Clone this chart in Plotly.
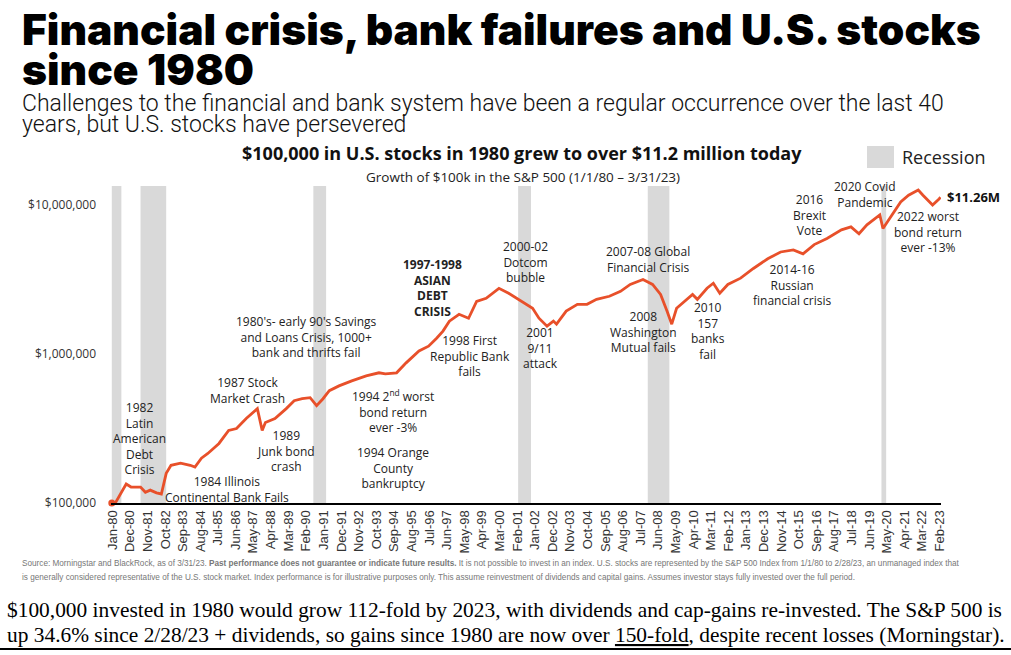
import numpy as np
import pandas as pd
import plotly.graph_objects as go

# ---------------- data ----------------
dates = ["1980-01", "1980-03", "1980-10", "1981-01", "1981-07", "1981-10", "1982-01", "1982-05",
         "1982-08", "1982-11", "1983-02", "1983-08", "1984-02", "1984-05", "1984-09", "1985-01",
         "1985-08", "1986-02", "1986-07", "1987-01", "1987-08", "1987-11", "1988-01", "1988-07",
         "1989-02", "1989-07", "1989-12", "1990-05", "1990-09", "1991-01", "1991-05", "1991-11",
         "1992-07", "1993-04", "1993-12", "1994-04", "1994-11", "1995-05", "1996-01", "1996-07",
         "1996-12", "1997-04", "1997-08", "1998-02", "1998-08", "1999-01", "1999-07", "2000-01",
         "2000-03", "2000-09", "2001-02", "2001-08", "2001-12", "2002-04", "2002-09", "2003-01",
         "2003-03", "2003-09", "2004-04", "2004-10", "2005-04", "2005-12", "2006-07", "2007-01",
         "2007-09", "2008-03", "2008-08", "2008-12", "2009-03", "2009-06", "2010-01", "2010-04",
         "2010-07", "2011-01", "2011-05", "2011-09", "2012-02", "2012-10", "2013-06", "2014-03",
         "2014-11", "2015-07", "2016-01", "2016-08", "2017-04", "2018-01", "2018-07", "2018-12",
         "2019-05", "2020-01", "2020-03", "2020-09", "2021-02", "2021-07", "2022-01", "2022-04",
         "2022-08", "2022-10", "2023-02", "2023-03"]
values = [100000, 99000, 134000, 128000, 128000, 118000, 122000, 117000,
          115000, 158000, 179000, 185000, 179000, 174000, 200000, 215000,
          251000, 307000, 316000, 369000, 430000, 307000, 347000, 369000,
          430000, 486000, 501000, 509000, 450000, 501000, 567000, 611000,
          660000, 713000, 748000, 736000, 748000, 872000, 1047000, 1129000,
          1276000, 1425000, 1662000, 1848000, 1738000, 2254000, 2365000, 2633000,
          2761000, 2557000, 2365000, 2154000, 2027000, 1738000, 1538000, 1662000,
          1585000, 1940000, 2154000, 2154000, 2328000, 2441000, 2633000, 2929000,
          3162000, 2929000, 2512000, 1940000, 1585000, 2027000, 2365000, 2512000,
          2328000, 2761000, 2985000, 2557000, 2929000, 3228000, 3750000, 4357000,
          4838000, 4993000, 4698000, 5424000, 5955000, 6813000, 7129000, 6412000,
          7356000, 8578000, 6958000, 8710000, 10471000, 11628000, 12589000, 11628000,
          10471000, 10000000, 10984000, 11260000]

recession_start = ["1980-01-01", "1981-07-01", "1990-07-01", "2001-03-01", "2007-12-01", "2020-02-01"]
recession_end = ["1980-07-01", "1982-11-01", "1991-03-01", "2001-11-01", "2009-01-15", "2020-05-01"]

tick_labels = ["Jan-80", "Dec-80", "Nov-81", "Oct-82", "Sep-83", "Aug-84", "Jul-85", "Jun-86",
               "May-87", "Apr-88", "Mar-89", "Feb-90", "Jan-91", "Dec-91", "Nov-92", "Oct-93",
               "Sep-94", "Aug-95", "Jul-96", "Jun-97", "May-98", "Apr-99", "Mar-00", "Feb-01",
               "Jan-02", "Dec-02", "Nov-03", "Oct-04", "Sep-05", "Aug-06", "Jul-07", "Jun-08",
               "May-09", "Apr-10", "Mar-11", "Feb-12", "Jan-13", "Dec-13", "Nov-14", "Oct-15",
               "Sep-16", "Aug-17", "Jul-18", "Jun-19", "May-20", "Apr-21", "Mar-22", "Feb-23"]

y_tick_vals = [100000, 1000000, 10000000]
y_tick_text = ["$100,000", "$1,000,000", "$10,000,000"]

end_label = "$11.26M"

# ---------------- layout helpers ----------------
W, H = 1011, 655
L, R, T, B = 111, 941, 186, 503


def px(x):
    return (x - L) / (R - L)


def py(y):
    return (B - y) / (B - T)


x_dates = pd.to_datetime(dates, format="%Y-%m")
tick_dates = [pd.to_datetime(t, format="%b-%y") + pd.Timedelta(days=14) for t in tick_labels]

LINE = "#e8502a"
TXT = "#222222"
CHART_FONT = "Open Sans"

fig = go.Figure()

fig.add_trace(go.Scatter(x=x_dates, y=values, mode="lines",
                         line=dict(color=LINE, width=2.8), hoverinfo="skip",
                         showlegend=False))
fig.add_trace(go.Scatter(x=x_dates[:1], y=values[:1], mode="markers",
                         marker=dict(color=LINE, size=7), cliponaxis=False,
                         hoverinfo="skip", showlegend=False))

shapes = []
for s, e in zip(recession_start, recession_end):
    shapes.append(dict(type="rect", xref="x", yref="paper", x0=s, x1=e, y0=0, y1=1,
                       fillcolor="#d9d9d9", line=dict(width=0), layer="below"))
# legend swatch
shapes.append(dict(type="rect", xref="paper", yref="paper", x0=px(867), x1=px(894),
                   y0=py(168), y1=py(146), fillcolor="#d9d9d9", line=dict(width=0)))
# bottom rule
shapes.append(dict(type="line", xref="paper", yref="paper", x0=px(0), x1=px(1011),
                   y0=py(649), y1=py(649), line=dict(color="black", width=2)))

ann = []


def add(text, x, y, size=12, bold=False, family=CHART_FONT, color=TXT, xanchor="center",
        yanchor="middle", align="center", weight=None):
    f = dict(family=family, size=size, color=color)
    if weight is not None:
        f["weight"] = weight
    ann.append(dict(text=("<b>%s</b>" % text) if bold else text, x=px(x), y=py(y),
                    xref="paper", yref="paper", xanchor=xanchor, yanchor=yanchor,
                    align=align, showarrow=False, font=f))


# Titles
add("Financial crisis, bank failures and U.S. stocks", 20, 30, size=42.5,
    family="Inter, Roboto", weight=900, color="#000", xanchor="left", align="left")
add("since 1980", 20, 69, size=42.5, family="Inter, Roboto", weight=900, color="#000",
    xanchor="left", align="left")
add("Challenges to the financial and bank system have been a regular occurrence over the last 40",
    20, 103, size=23, family="Roboto", weight=300, color="#111", xanchor="left", align="left")
add("years, but U.S. stocks have persevered", 20, 124, size=23, family="Roboto", weight=300,
    color="#111", xanchor="left", align="left")

add("$100,000 in U.S. stocks in 1980 grew to over $11.2 million today", 522, 167, size=18,
    bold=True, color="#111", yanchor="bottom")
add("Growth of $100k in the S&P 500 (1/1/80 \u2013 3/31/23)", 523, 166, size=13.5, color="#222",
    yanchor="top")
add("Recession", 900, 157, size=18, color="#222", xanchor="left", align="left")

# Event annotations
events = [
    ("1982<br>Latin<br>American<br>Debt<br>Crisis", 139, 438, False),
    ("1984 Illinois<br>Continental Bank Fails", 227, 489, False),
    ("1987 Stock<br>Market Crash", 247, 390, False),
    ("1989<br>Junk bond<br>crash", 286, 451, False),
    ("1980's- early 90's Savings<br>and Loans Crisis, 1000+<br>bank and thrifts fail", 306, 337, False),
    ("1994 2<sup>nd</sup> worst<br>bond return<br>ever -3%", 393, 411, False),
    ("1994 Orange<br>County<br>bankruptcy", 393, 468, False),
    ("1997-1998<br>ASIAN<br>DEBT<br>CRISIS", 432, 288, True),
    ("1998 First<br>Republic Bank<br>fails", 470, 356, False),
    ("2000-02<br>Dotcom<br>bubble", 525, 262, False),
    ("2001<br>9/11<br>attack", 540, 348, False),
    ("2007-08 Global<br>Financial Crisis", 648, 259, False),
    ("2008<br>Washington<br>Mutual fails", 643, 332, False),
    ("2010<br>157<br>banks<br>fail", 708, 331, False),
    ("2014-16<br>Russian<br>financial crisis", 792, 285, False),
    ("2016<br>Brexit<br>Vote", 809, 215, False),
    ("2020 Covid<br>Pandemic", 865, 194, False),
    ("2022 worst<br>bond return<br>ever -13%", 928, 232, False),
]
for text, x, y, b in events:
    add(text, x, y, size=12, bold=b)

# End value label anchored to last data point
ann.append(dict(text="<b>%s</b>" % end_label, x=x_dates[-1], y=np.log10(values[-1]),
                xref="x", yref="y", xanchor="left", yanchor="middle", xshift=4,
                showarrow=False, font=dict(family=CHART_FONT, size=13, color="#111")))

# Source footnote
src1 = ("Source: Morningstar and BlackRock, as of 3/31/23. <b>Past performance does not guarantee "
        "or indicate future results.</b> It is not possible to invest in an index. U.S. stocks are "
        "represented by the S&P 500 Index from 1/1/80 to 2/28/23, an unmanaged index that")
src2 = ("is generally considered representative of the U.S. stock market. Index performance is for "
        "illustrative purposes only. This assume reinvestment of dividends and capital gains. "
        "Assumes investor stays fully invested over the full period.")
add(src1, 20, 563, size=8.2, family="Liberation Sans", color="#777", xanchor="left", align="left")
add(src2, 20, 577, size=8.2, family="Liberation Sans", color="#777", xanchor="left", align="left")

# Caption
cap1 = ("$100,000 invested in 1980 would grow 112-fold by 2023, with dividends and cap-gains "
        "re-invested. The S&P 500 is")
cap2 = ("up 34.6% since 2/28/23 + dividends, so gains since 1980 are now over <u>150-fold</u>, "
        "despite recent losses (Morningstar).")
add(cap1, 5, 610, size=21.4, family="Liberation Serif", color="#000", xanchor="left", align="left")
add(cap2, 5, 635, size=21.4, family="Liberation Serif", color="#000", xanchor="left", align="left")

x0 = pd.Timestamp("1979-12-17")
x1 = pd.Timestamp("2023-03-10")

fig.update_layout(
    width=W, height=H,
    margin=dict(l=L, r=W - R, t=T, b=H - B, pad=0),
    paper_bgcolor="white", plot_bgcolor="white",
    shapes=shapes, annotations=ann,
    showlegend=False,
    xaxis=dict(type="date", range=[x0, x1], tickmode="array", tickvals=tick_dates,
               ticktext=tick_labels, tickangle=-90, showgrid=False, zeroline=False,
               showline=True, linecolor="black", linewidth=2, ticks="",
               tickfont=dict(family="Liberation Sans", size=13, color="#333")),
    yaxis=dict(type="log", range=[5, 7.1275], tickmode="array", tickvals=y_tick_vals,
               ticktext=y_tick_text, showgrid=False, zeroline=False, showline=False,
               ticks="", ticklabelstandoff=14,
               tickfont=dict(family=CHART_FONT, size=12, color="#333")),
)

fig.write_html("out.html", config={"displayModeBar": False},
               post_script="document.body.style.margin='0';document.body.style.overflow='hidden';")
